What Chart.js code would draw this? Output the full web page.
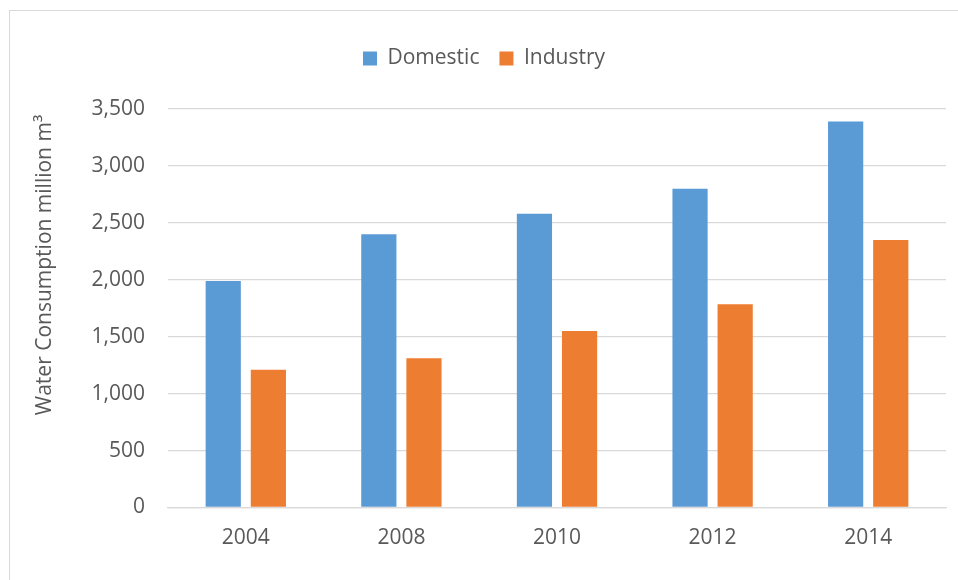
<!DOCTYPE html>
<html>
<head>
<meta charset="utf-8">
<script src="https://cdn.jsdelivr.net/npm/chart.js@4"></script>
<style>
  html, body { margin: 0; padding: 0; background: #fff; }
  #wrap { position: relative; width: 958px; height: 580px; overflow: hidden; }
  #frame { position: absolute; left: 9px; top: 10px; width: 980px; height: 600px; border: 1px solid #d9d9d9; }
  #myChart { position: absolute; left: 0; top: 0; }
</style>
</head>
<body>
<div id="wrap">
  <div id="frame"></div>
  <canvas id="myChart" width="958" height="580"></canvas>
</div>
<script>
const years = ['2004', '2008', '2010', '2012', '2014'];
const domestic = [1990, 2400, 2580, 2800, 3390];
const industry = [1210, 1310, 1550, 1785, 2350];
const yTicks = [0, 500, 1000, 1500, 2000, 2500, 3000, 3500];
const yTitle = 'Water Consumption million m\u00B3';

const textColor = '#595959';
const gridColor = '#d9d9d9';
const fontFamily = "'Open Sans', sans-serif";

// legend takes fixed room so the plot starts where the original does
const legendSpace = {
    id: 'legendSpace',
    beforeInit(chart) {
        const fit = chart.legend.fit;
        chart.legend.fit = function () {
            fit.call(this);
            this.height = 81;
        };
    }
};

// rotated y title, drawn where the original has it
const yTitlePlugin = {
    id: 'yTitle',
    afterDraw(chart) {
        const c = chart.ctx;
        c.save();
        c.translate(45, 265);
        c.rotate(-Math.PI / 2);
        c.font = '21px ' + fontFamily;
        c.fillStyle = textColor;
        c.textAlign = 'center';
        c.textBaseline = 'middle';
        c.fillText(yTitle, 0, 0);
        c.restore();
    }
};

const ctx = document.getElementById('myChart').getContext('2d');

const myChart = new Chart(ctx, {
    type: 'bar',
    data: {
        labels: years,
        datasets: [{
            label: 'Domestic',
            data: domestic,
            backgroundColor: '#5b9bd5',
            borderWidth: 0,
            categoryPercentage: 0.58,
            barPercentage: 0.78
        }, {
            label: 'Industry',
            data: industry,
            backgroundColor: '#ed7d31',
            borderWidth: 0,
            categoryPercentage: 0.58,
            barPercentage: 0.78
        }]
    },
    options: {
        responsive: false,
        animation: false,
        layout: {
            padding: { top: 28, left: 22, right: 12, bottom: 0 }
        },
        plugins: {
            legend: {
                display: true,
                position: 'top',
                labels: {
                    boxWidth: 14,
                    boxHeight: 14,
                    padding: 20,
                    color: textColor,
                    font: { family: fontFamily, size: 21 }
                }
            },
            tooltip: { enabled: false },
            title: { display: false }
        },
        scales: {
            y: {
                min: 0,
                max: 3500,
                afterFit: (scale) => { scale.width = 146; },
                afterBuildTicks: (scale) => {
                    scale.ticks = yTicks.map(v => ({ value: v }));
                },
                ticks: {
                    padding: 23,
                    color: textColor,
                    font: { family: fontFamily, size: 21 },
                    callback: (value) => value.toLocaleString('en-US')
                },
                grid: {
                    color: gridColor,
                    lineWidth: 1.3,
                    drawTicks: false
                },
                border: { display: false }
            },
            x: {
                afterFit: (scale) => { scale.height = 72.5; },
                ticks: {
                    padding: 18,
                    color: textColor,
                    font: { family: fontFamily, size: 21 }
                },
                grid: {
                    display: false,
                    drawTicks: false
                },
                border: { display: true, color: gridColor, width: 1.3 }
            }
        }
    },
    plugins: [legendSpace, yTitlePlugin]
});
</script>
</body>
</html>
